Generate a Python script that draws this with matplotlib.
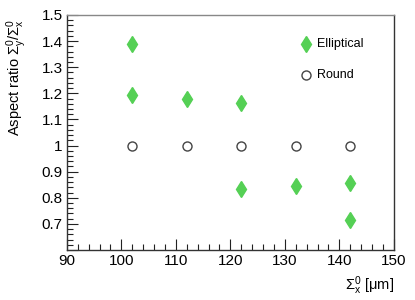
import matplotlib
matplotlib.use("Agg")
import matplotlib.pyplot as plt
from matplotlib.ticker import MultipleLocator, FuncFormatter

plt.rcParams['font.family'] = ['Liberation Sans', 'DejaVu Sans']
plt.rcParams['mathtext.fontset'] = 'custom'
plt.rcParams['mathtext.rm'] = 'Liberation Sans'
plt.rcParams['mathtext.it'] = 'Liberation Sans'

ell_x = [102, 102, 112, 122, 122, 132, 142, 142]
ell_y = [1.39, 1.195, 1.178, 1.163, 0.835, 0.845, 0.857, 0.715]
round_x = [102, 112, 122, 132, 142]
round_y = [1.0, 1.0, 1.0, 1.0, 1.0]
labels = ["Elliptical", "Round"]

fig = plt.figure(figsize=(4.15, 3.0), dpi=100)
ax = fig.add_axes([0.161, 0.1667, 0.788, 0.7833])

ax.plot(ell_x, ell_y, linestyle='none', marker='d', markersize=8.5,
        color='#55d055', markeredgecolor='#55d055')
ax.plot(round_x, round_y, linestyle='none', marker='o', markersize=6.5,
        markerfacecolor='white', markeredgecolor='#444444', markeredgewidth=1.0)

ax.set_xlim(90, 150)
ax.set_ylim(0.6, 1.5)
ax.xaxis.set_major_locator(MultipleLocator(10))
ax.xaxis.set_minor_locator(MultipleLocator(2))
ax.yaxis.set_major_locator(MultipleLocator(0.1))
ax.yaxis.set_minor_locator(MultipleLocator(0.02))

def yfmt(v, pos):
    if abs(v - 0.6) < 1e-6:
        return ''
    return '%g' % round(v, 2)
ax.yaxis.set_major_formatter(FuncFormatter(yfmt))

ax.tick_params(which='both', direction='in', top=False, right=False,
               colors='#222222', labelsize=11, labelcolor='black')
ax.tick_params(which='major', length=8, width=0.8, pad=3)
ax.tick_params(which='minor', length=4, width=0.8)
for s in ax.spines.values():
    s.set_color('#333333')
    s.set_linewidth(1.0)
ax.spines['top'].set_color('#888888')

ax.set_ylabel(r'Aspect ratio $\Sigma_y^0/\Sigma_x^0$', fontsize=10.5)
ax.yaxis.set_label_coords(-0.115, 0.985)
ax.yaxis.label.set_horizontalalignment('right')
ax.set_xlabel(r'$\Sigma_x^0$ [$\mu$m]', fontsize=10.5)
ax.xaxis.set_label_coords(1.0, -0.105)
ax.xaxis.label.set_horizontalalignment('right')

# legend
ax.plot([0.73], [0.876], transform=ax.transAxes, marker='d', markersize=8.5,
        color='#55d055', linestyle='none', clip_on=False)
ax.text(0.765, 0.876, labels[0], transform=ax.transAxes, fontsize=9,
        va='center', ha='left')
ax.plot([0.73], [0.745], transform=ax.transAxes, marker='o', markersize=6.5,
        markerfacecolor='white', markeredgecolor='#444444', linestyle='none', clip_on=False)
ax.text(0.765, 0.745, labels[1], transform=ax.transAxes, fontsize=9,
        va='center', ha='left')

fig.savefig('out.png', dpi=100)
